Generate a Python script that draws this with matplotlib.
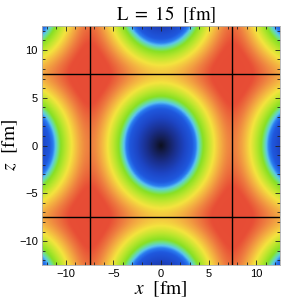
import numpy as np
import matplotlib
matplotlib.use("Agg")
import matplotlib.pyplot as plt
from matplotlib.colors import LinearSegmentedColormap

plt.rcParams['mathtext.fontset'] = 'stix'
plt.rcParams['font.family'] = 'Liberation Sans'

# box size and lattice of density holes (fm)
box_L = 15.0
half_range = 12.5
hole_x = [-15, 0, 15]
hole_z = [-15, 0, 15]
z_stretch = 1.16          # holes are a bit longer along z
softmin_p = 8

# radial colour profile (distance in fm along x)
prof_r = [0.0, 0.6, 1.5, 2.5, 3.3, 3.65, 3.9, 4.15, 4.45, 5.0, 5.6, 6.2, 6.9, 7.6, 9.0]
prof_c = ['#0c1020', '#141d4e', '#1a2f8c', '#1d45c4', '#1f58de', '#2a7cf0',
          '#5cc6ec', '#6cdf92', '#88e024', '#bde62e', '#f4e43e', '#f4b442',
          '#ee7e40', '#e84e36', '#e64a34']

span = prof_r[-1]
cmap = LinearSegmentedColormap.from_list(
    'prof', [(r / span, c) for r, c in zip(prof_r, prof_c)])

# field on grid
x = np.linspace(-half_range, half_range, 500)
z = np.linspace(-half_range, half_range, 500)
X, Z = np.meshgrid(x, z)
acc = np.zeros_like(X)
for hx in hole_x:
    for hz in hole_z:
        d = np.sqrt((X - hx) ** 2 + ((Z - hz) / z_stretch) ** 2) + 1e-6
        acc += d ** (-softmin_p)
D = acc ** (-1.0 / softmin_p)

fig = plt.figure(figsize=(2.82, 3.04), dpi=100)
ax = fig.add_axes([42 / 282, 39 / 304, 238 / 282, 239 / 304])
ax.imshow(D, extent=[-half_range, half_range, -half_range, half_range],
          origin='lower', cmap=cmap, vmin=0, vmax=span,
          interpolation='bilinear', aspect='auto')

# cell boundaries
for v in [-box_L / 2, box_L / 2]:
    ax.axvline(v, color='black', lw=1.0)
    ax.axhline(v, color='black', lw=1.0)

ax.set_xlim(-half_range, half_range)
ax.set_ylim(-half_range, half_range)
ticks = [-10, -5, 0, 5, 10]
ax.set_xticks(ticks)
ax.set_yticks(ticks)
ax.set_xticks(np.arange(-12, 13, 1), minor=True)
ax.set_yticks(np.arange(-12, 13, 1), minor=True)
ax.set_xticklabels(['\u221210', '\u22125', '0', '5', '10'])
ax.set_yticklabels(['\u221210', '\u22125', '0', '5', '10'])
ax.tick_params(which='both', direction='in', top=True, right=True,
               color='#222222', labelsize=8, pad=3)
ax.tick_params(which='major', length=3.5, width=0.6)
ax.tick_params(which='minor', length=2, width=0.6)
for s in ax.spines.values():
    s.set_color('#b0b0b0')
    s.set_linewidth(0.6)

ax.set_title(r'$\mathrm{L\ =\ 15\ \ [fm]}$', fontsize=13.5, pad=4, x=0.52)
ax.set_xlabel(r'$x\ \ \mathrm{[fm]}$', fontsize=14, labelpad=0)
ax.set_ylabel(r'$z\ \ \mathrm{[fm]}$', fontsize=14)
ax.yaxis.set_label_coords(-0.092, 0.5)

fig.savefig('out.png', dpi=100)
